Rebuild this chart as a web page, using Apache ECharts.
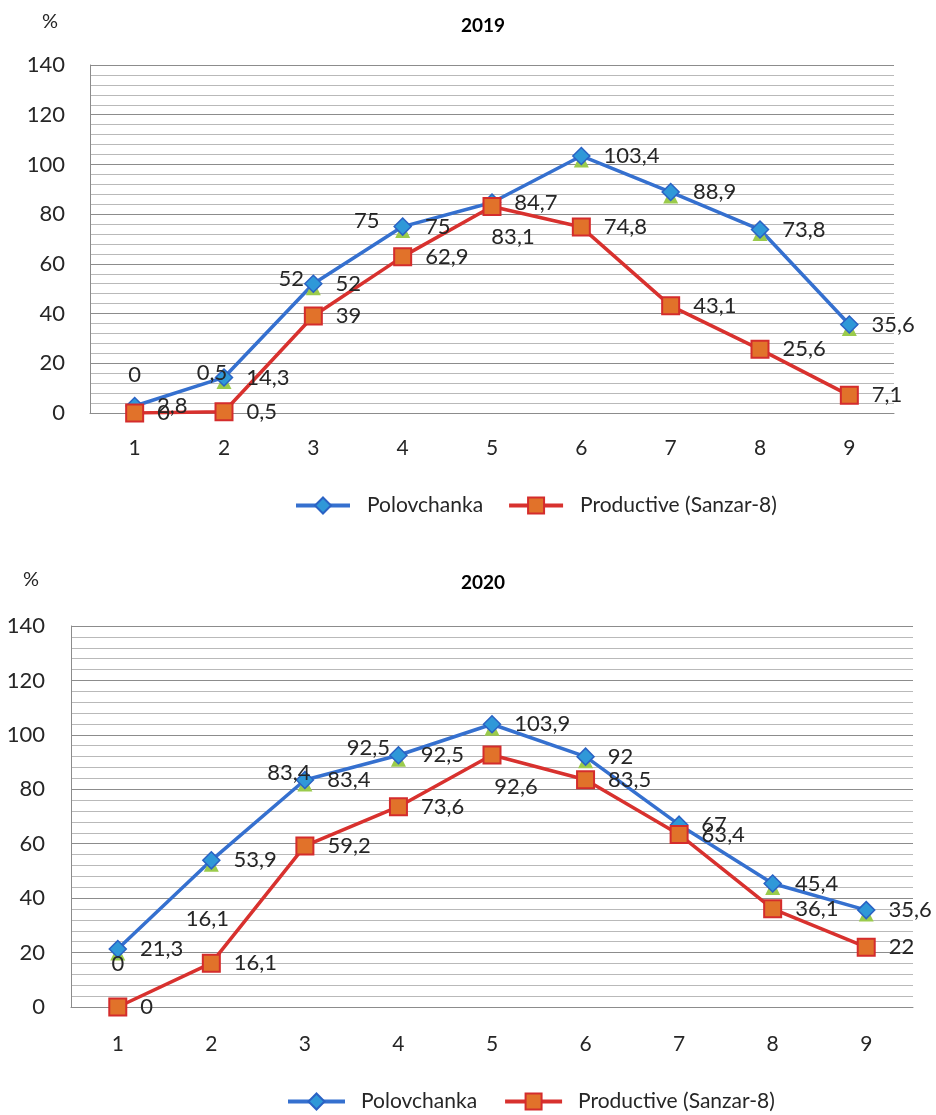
<!DOCTYPE html>
<html><head><meta charset="utf-8">
<script src="https://cdn.jsdelivr.net/npm/echarts@6/dist/echarts.min.js"></script>
<style>html,body{margin:0;padding:0;background:#fff}#c{width:936px;height:1115px}</style>
</head><body><div id="c"></div>
<script>
// ---- data ----
const categories = ['1','2','3','4','5','6','7','8','9'];
const seriesNames = ['Polovchanka', 'Productive (Sanzar-8)'];
const polovchanka2019 = [2.8, 14.3, 52, 75, 84.7, 103.4, 88.9, 73.8, 35.6];
const productive2019 = [0, 0.5, 39, 62.9, 83.1, 74.8, 43.1, 25.6, 7.1];
const extraLabels2019 = ['0', '0,5', '52', '75', '', '', '', '', ''];
const polovchanka2020 = [21.3, 53.9, 83.4, 92.5, 103.9, 92, 67, 45.4, 35.6];
const productive2020 = [0, 16.1, 59.2, 73.6, 92.6, 83.5, 63.4, 36.1, 22];
const extraLabels2020 = ['0', '16,1', '83,4', '92,5', '', '', '', '', ''];
const titles = ['2019', '2020'];
const yMin = 0, yMax = 140, yStep = 20;

// ---- styles ----
const FONT = 'Lato, "Open Sans", sans-serif';
const TXT = '#262626';
const BLUE_LINE = '#3570CF', BLUE_FILL = '#2F98D8', BLUE_BORDER = '#2A62C4';
const RED_LINE = '#D8312E', RED_FILL = '#E1722A', RED_BORDER = '#D42C2C';
const GREEN = '#9BCB4C';
const LBL = 22;
const fmt = v => String(v).replace('.', ',');

// label offsets for the extra (green) labels, per panel
const greenOffsets = [
  [[0, -35], [-12, -9], [-22, -9], [-36, -10]],
  [[0, 11], [-4, 55], [-16, -11], [-30, -11]]
];
const redSpecial = [{4: [21, 30]}, {4: [24, 32]}];

const grids = [
  {left: 90, top: 65, width: 804, height: 348},
  {left: 71, top: 626, width: 842, height: 381}
];

const data = [
  {p: polovchanka2019, r: productive2019, g: extraLabels2019},
  {p: polovchanka2020, r: productive2020, g: extraLabels2020}
];

const legendCommon = {
  itemHeight: 20,
  lineStyle: {width: 4},
  textStyle: {fontSize: 21, color: TXT, fontFamily: FONT}
};

const option = {
  backgroundColor: '#fff',
  animation: false,
  textStyle: {fontFamily: FONT, color: TXT},
  title: [
    {text: titles[0], left: 478, top: 11, textAlign: 'center', textStyle: {fontSize: 19, fontWeight: 'bold', color: '#000', fontFamily: FONT}},
    {text: '%', left: 37, top: 7, textStyle: {fontSize: 20, fontWeight: 'normal', color: TXT, fontFamily: FONT}},
    {text: titles[1], left: 478, top: 568, textAlign: 'center', textStyle: {fontSize: 19, fontWeight: 'bold', color: '#000', fontFamily: FONT}},
    {text: '%', left: 18, top: 565, textStyle: {fontSize: 20, fontWeight: 'normal', color: TXT, fontFamily: FONT}}
  ],
  legend: [
    Object.assign({}, legendCommon, {data: seriesNames, left: 289, top: 490, itemWidth: 54, itemGap: 24,
      textStyle: Object.assign({}, legendCommon.textStyle, {padding: [0, 0, 0, 12]})}),
    Object.assign({}, legendCommon, {data: seriesNames.map(n => n + ' '), left: 281, top: 1086, itemWidth: 57, itemGap: 26,
      textStyle: Object.assign({}, legendCommon.textStyle, {padding: [0, 0, 0, 11]}),
      formatter: n => n.trim()})
  ],
  grid: grids,
  xAxis: grids.map((g, i) => ({
    type: 'category', gridIndex: i, data: categories, boundaryGap: true,
    axisTick: {show: false},
    axisLine: {show: true, lineStyle: {color: '#8c8c8c', width: 1}},
    axisLabel: {fontSize: 21, color: TXT, margin: i === 0 ? 25 : 27, fontFamily: FONT}
  })),
  yAxis: grids.map((g, i) => ({
    type: 'value', gridIndex: i, min: yMin, max: yMax, interval: yStep,
    axisLine: {show: true, lineStyle: {color: '#8c8c8c', width: 1}},
    axisTick: {show: false},
    minorTick: {show: false, splitNumber: 5},
    splitLine: {show: true, lineStyle: {color: '#8c8c8c', width: 1}},
    minorSplitLine: {show: true, lineStyle: {color: '#b9b9b9', width: 1}},
    axisLabel: {fontSize: 22, color: TXT, margin: i === 0 ? 25 : 26, fontFamily: FONT}
  })),
  series: []
};

data.forEach((d, i) => {
  // green triangle series (under the diamonds), carrying the extra labels
  option.series.push({
    type: 'line', name: 'extra' + i, xAxisIndex: i, yAxisIndex: i,
    symbol: 'triangle', symbolSize: 15, symbolOffset: [0, 4],
    lineStyle: {width: 0, opacity: 0},
    itemStyle: {color: GREEN, borderWidth: 0},
    data: d.p.map((v, k) => {
      const o = greenOffsets[i][k];
      return {value: v, label: o ? {show: true, position: 'inside', offset: o} : {show: false}};
    }),
    label: {show: true, fontSize: LBL, color: TXT, fontFamily: FONT,
      formatter: p => d.g[p.dataIndex]}
  });
  option.series.push({
    type: 'line', name: i === 0 ? seriesNames[0] : seriesNames[0] + ' ', xAxisIndex: i, yAxisIndex: i,
    symbol: 'diamond', symbolSize: 17,
    lineStyle: {color: BLUE_LINE, width: 3.5},
    itemStyle: {color: BLUE_FILL, borderColor: BLUE_BORDER, borderWidth: 1.5},
    data: d.p,
    label: {show: true, position: 'right', distance: 13, fontSize: LBL, color: TXT, fontFamily: FONT,
      formatter: p => fmt(p.value)}
  });
  option.series.push({
    type: 'line', name: i === 0 ? seriesNames[1] : seriesNames[1] + ' ', xAxisIndex: i, yAxisIndex: i,
    symbol: 'rect', symbolSize: 17,
    lineStyle: {color: RED_LINE, width: 3.5},
    itemStyle: {color: RED_FILL, borderColor: RED_BORDER, borderWidth: 2},
    data: d.r.map((v, k) => {
      const o = redSpecial[i][k];
      return o ? {value: v, label: {position: 'inside', offset: o}} : v;
    }),
    label: {show: true, position: 'right', distance: 13, fontSize: LBL, color: TXT, fontFamily: FONT,
      formatter: p => fmt(p.value)}
  });
});

const chart = echarts.init(document.getElementById('c'), null, {renderer: 'canvas'});
chart.setOption(option);
</script>
</body></html>
